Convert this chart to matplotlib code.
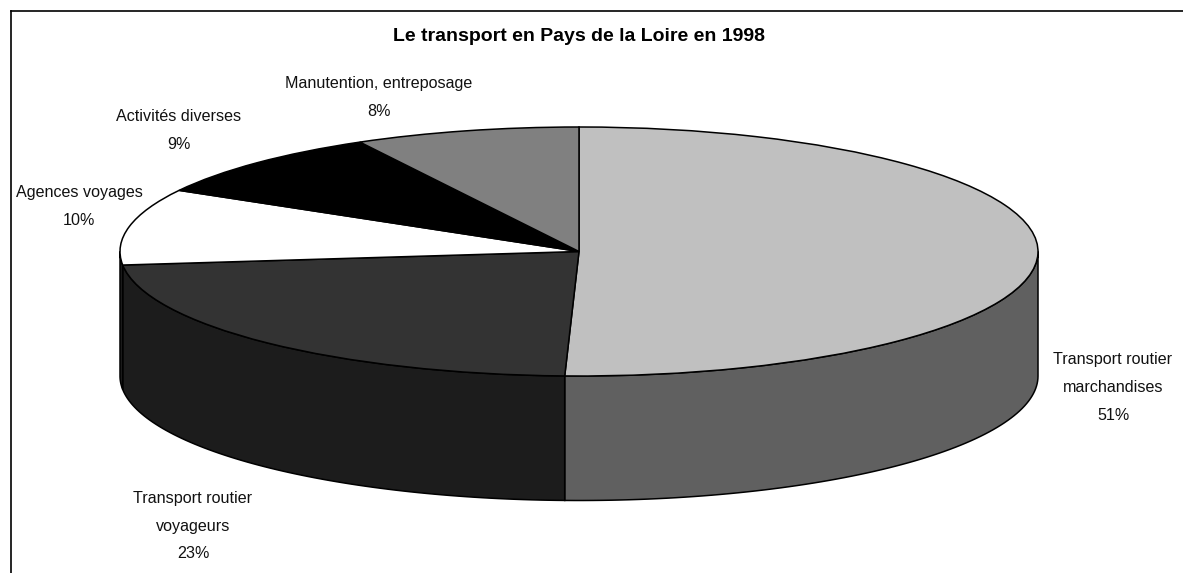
import matplotlib
matplotlib.use('Agg')
import matplotlib.pyplot as plt
import numpy as np
from matplotlib.lines import Line2D

plt.rcParams['font.family'] = ['Liberation Sans', 'DejaVu Sans']

title = 'Le transport en Pays de la Loire en 1998'
categories = ['Transport routier\nmarchandises', 'Transport routier\nvoyageurs',
              'Agences voyages', 'Activités diverses', 'Manutention, entreposage']
values = [51, 23, 10, 9, 8]
top_colors = ['#c0c0c0', '#333333', '#ffffff', '#000000', '#808080']
side_colors = ['#606060', '#1c1c1c', '#1c1c1c', '#000000', '#404040']

# where the labels sit, in pixels of the original picture
label_pos = [(1113, 387.5), (193, 526), (79, 206.5), (179, 130.5), (379, 97.5)]

W, H = 1183, 573
cx, cy = 579, 251.5
rx, ry = 459, 124.5
depth = 1.0


def px(x, y):
    return x / W, 1 - y / H


fig = plt.figure(figsize=(W / 100, H / 100), dpi=100)
ax = fig.add_axes([0, 0, 1, 1])

wedges, _ = ax.pie(values, startangle=90, counterclock=False, radius=1,
                   colors=top_colors,
                   wedgeprops={'edgecolor': 'black', 'linewidth': 1.1, 'zorder': 3})

# side wall of the slices, only the front half can be seen
for w, col in zip(wedges, side_colors):
    a1 = max(w.theta1, 180)
    a2 = min(w.theta2, 360)
    # theta can be given past 360 so look at it shifted too
    if a1 >= a2:
        a1 = max(w.theta1 + 360, 180)
        a2 = min(w.theta2 + 360, 360)
    if a1 >= a2:
        continue
    t = np.radians(np.linspace(a1, a2, 80))
    xs = np.cos(t)
    ys = np.sin(t)
    ax.fill(np.r_[xs, xs[::-1]], np.r_[ys, ys[::-1] - depth], facecolor=col,
            edgecolor='black', linewidth=1.1, zorder=2)

ax.set_aspect('auto')
ax.set_xlim(-cx / rx, (W - cx) / rx)
ax.set_ylim(-(H - cy) / ry, cy / ry)
ax.axis('off')

for name, val, pos in zip(categories, values, label_pos):
    fig.text(*px(*pos), f'{name}\n{val}%', ha='center', va='center', fontsize=11.6,
             linespacing=2.05, color='#111111')

fig.text(*px(579, 36.5), title, ha='center', va='center', fontsize=14, fontweight='bold')

# frame, open on the right and at the bottom
fig.add_artist(Line2D([11 / W, 1], [1 - 11 / H, 1 - 11 / H], color='black', lw=1.2))
fig.add_artist(Line2D([11 / W, 11 / W], [0, 1 - 11 / H], color='black', lw=1.2))

fig.savefig('out.png', dpi=100)
